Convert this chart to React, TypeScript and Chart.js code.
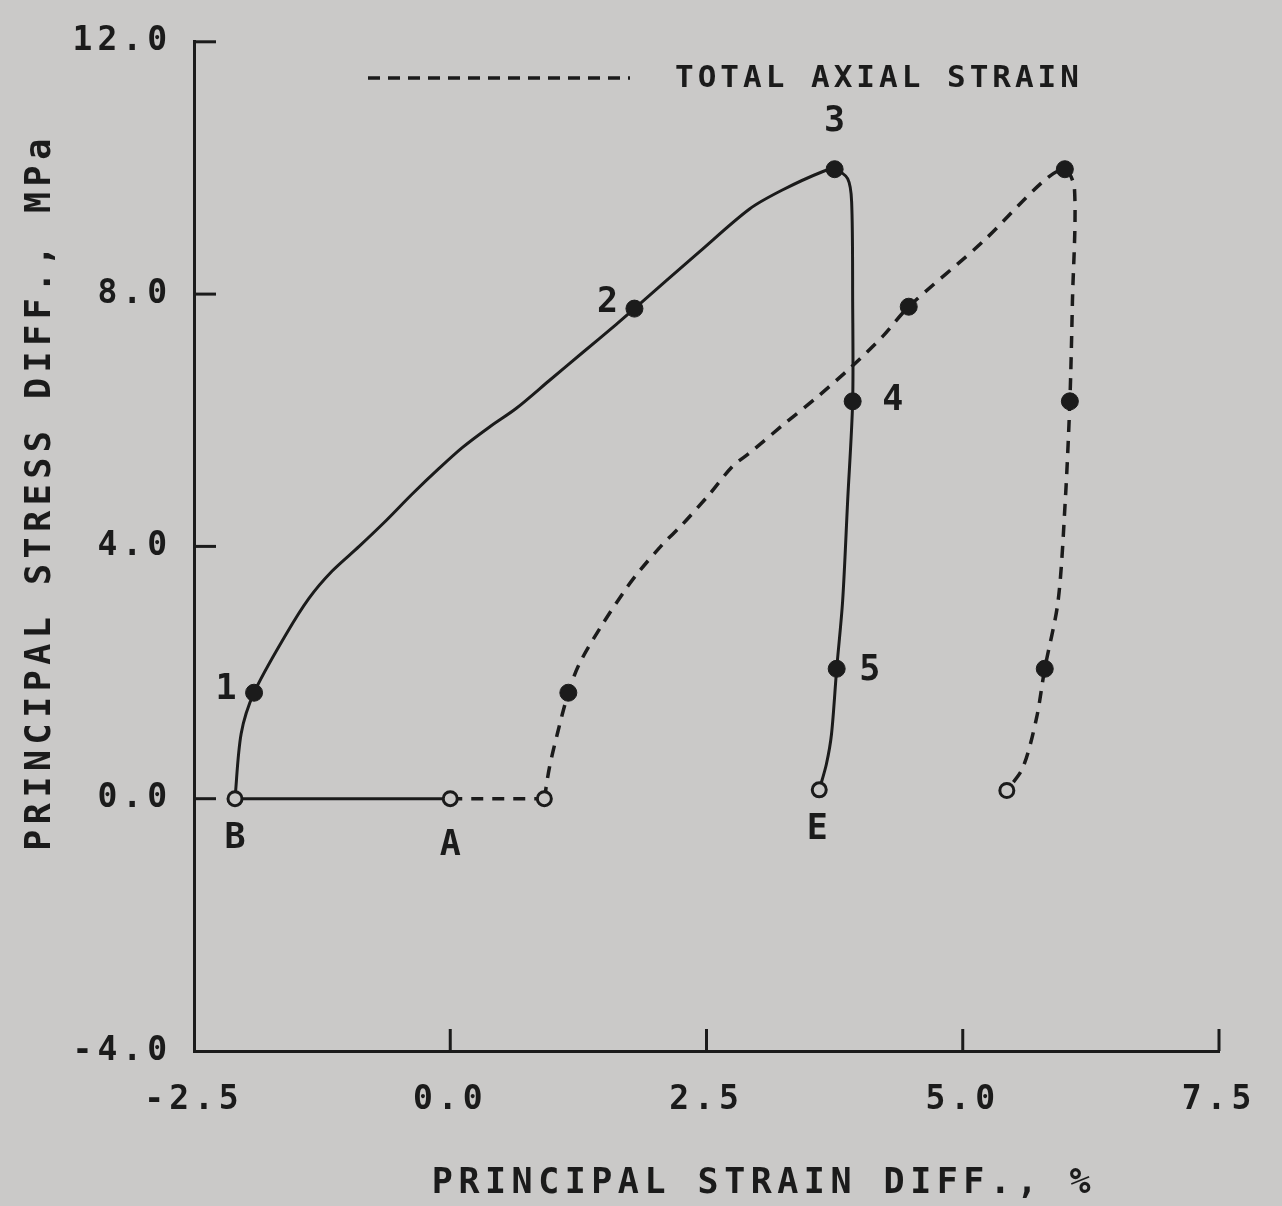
import React, { useEffect, useRef } from 'react';
import { Chart, registerables } from 'chart.js';

Chart.register(...registerables);

// ---------- data ----------
const X_TICKS = [-2.5, 0, 2.5, 5, 7.5];
const Y_TICKS = [-4, 0, 4, 8, 12];

// Solid: principal strain difference. Unloaded baseline A -> B, then loading curve B -> 1 -> 2 -> 3 -> 4 -> 5 -> E
const principalBaseX = [0, -2.1];
const principalBaseY = [0, 0];
const principalX = [-2.1, -2.04, -1.914, -1.6, -1.377, -1.152, -0.889, -0.625, -0.371, -0.107, 0.12, 0.38, 0.645, 0.967, 1.289, 1.62, 1.797, 2.43, 2.92, 3.24, 3.63, 3.75, 3.877, 3.916, 3.926, 3.926, 3.877, 3.828, 3.77, 3.72, 3.67, 3.6];
const principalY = [0, 1.03, 1.68, 2.61, 3.18, 3.61, 4.0, 4.41, 4.83, 5.24, 5.57, 5.89, 6.19, 6.63, 7.07, 7.52, 7.77, 8.67, 9.35, 9.65, 9.94, 9.98, 9.83, 9.46, 7.88, 6.3, 4.72, 3.13, 2.06, 1.03, 0.55, 0.14];

// Dashed: total axial strain. Baseline A -> open point, then loading curve
const axialBaseX = [0, 0.918];
const axialBaseY = [0, 0];
const axialX = [0.918, 0.967, 1.045, 1.152, 1.26, 1.475, 1.72, 1.846, 2.07, 2.266, 2.53, 2.754, 2.92, 3.242, 3.574, 3.896, 4.219, 4.473, 5.195, 5.78, 5.996, 6.09, 6.07, 6.045, 6.0, 5.93, 5.8, 5.72, 5.586, 5.43];
const axialY = [0, 0.49, 1.03, 1.68, 2.14, 2.74, 3.34, 3.61, 4.03, 4.35, 4.83, 5.27, 5.48, 5.92, 6.36, 6.82, 7.33, 7.8, 8.83, 9.78, 9.98, 9.67, 7.88, 6.3, 4.72, 3.13, 2.06, 1.28, 0.49, 0.13];

// Marked stages
const stageNames = ['1', '2', '3', '4', '5'];
const stagePrincipalX = [-1.914, 1.797, 3.75, 3.926, 3.77];
const stagePrincipalY = [1.68, 7.77, 9.98, 6.3, 2.06];
const stageAxialX = [1.152, 4.473, 5.996, 6.045, 5.8];
const stageAxialY = [1.68, 7.8, 9.98, 6.3, 2.06];

const openNames = ['A', 'B', 'E'];
const openPrincipalX = [0, -2.1, 3.6];
const openPrincipalY = [0, 0, 0.14];
const openAxialX = [0.918, 5.43];
const openAxialY = [0, 0.13];

const LEGEND_TEXT = 'TOTAL AXIAL STRAIN';
const X_TITLE = 'PRINCIPAL STRAIN DIFF., %';
const Y_TITLE = 'PRINCIPAL STRESS DIFF., MPa';

// ---------- styles / layout ----------
const BG = '#cac9c8';
const INK = '#1b1b1b';
const FONT = '"DejaVu Sans Mono", monospace';
const W = 1282;
const H = 1206;
const TICK_LEN = 22;
const TENSION = 0.3;
// label offsets (px) relative to their marker, same order as names
const stageLabelOffsets = [[-28, -3], [-27, -6], [0, -47], [40, 0], [33, 2]];
const openLabelOffsets = [[0, 47], [0, 40], [-2, 40]];

const pts = (xs: number[], ys: number[]) => xs.map((x, i) => ({ x, y: ys[i] }));

const decorPlugin = {
  id: 'decor',
  beforeDraw(chart: any) {
    chart.ctx.letterSpacing = '5px';
  },
  afterDraw(chart: any) {
    const { ctx } = chart;
    const x = chart.scales.x;
    const y = chart.scales.y;
    ctx.save();
    ctx.strokeStyle = INK;
    ctx.fillStyle = INK;
    ctx.lineWidth = 3;
    ctx.setLineDash([]);
    // inward tick marks
    const left = x.left;
    const bottom = y.bottom;
    X_TICKS.slice(1).forEach((v) => {
      const px = x.getPixelForValue(v);
      ctx.beginPath();
      ctx.moveTo(px, bottom);
      ctx.lineTo(px, bottom - TICK_LEN);
      ctx.stroke();
    });
    Y_TICKS.slice(1).forEach((v) => {
      const py = y.getPixelForValue(v);
      ctx.beginPath();
      ctx.moveTo(left, py);
      ctx.lineTo(left + TICK_LEN, py);
      ctx.stroke();
    });

    // legend
    ctx.lineWidth = 3.5;
    ctx.setLineDash([12, 8]);
    ctx.beginPath();
    ctx.moveTo(368, 78);
    ctx.lineTo(630, 78);
    ctx.stroke();
    ctx.setLineDash([]);
    ctx.letterSpacing = '4px';
    ctx.font = `bold 31px ${FONT}`;
    ctx.textAlign = 'left';
    ctx.textBaseline = 'middle';
    ctx.fillText(LEGEND_TEXT, 675, 79);

    // axis titles
    ctx.font = `bold 35px ${FONT}`;
    ctx.letterSpacing = '5.5px';
    ctx.textAlign = 'center';
    ctx.fillText(X_TITLE, 764, 1184);
    ctx.save();
    ctx.translate(41, 492);
    ctx.rotate(-Math.PI / 2);
    ctx.fillText(Y_TITLE, 0, 0);
    ctx.restore();

    // point labels
    ctx.font = `bold 35px ${FONT}`;
    ctx.letterSpacing = '0px';
    stageNames.forEach((n, i) => {
      const px = x.getPixelForValue(stagePrincipalX[i]) + stageLabelOffsets[i][0];
      const py = y.getPixelForValue(stagePrincipalY[i]) + stageLabelOffsets[i][1];
      ctx.fillText(n, px, py);
    });
    openNames.forEach((n, i) => {
      const px = x.getPixelForValue(openPrincipalX[i]) + openLabelOffsets[i][0];
      const py = y.getPixelForValue(openPrincipalY[i]) + openLabelOffsets[i][1];
      ctx.fillText(n, px, py);
    });
    ctx.restore();
  },
};

const markerSet = (label: string, xs: number[], ys: number[], open: boolean) => ({
  label,
  data: pts(xs, ys),
  showLine: false,
  pointRadius: open ? 7 : 8.5,
  pointBackgroundColor: open ? BG : INK,
  pointBorderColor: INK,
  pointBorderWidth: open ? 3 : 1,
  order: 0,
});

const lineSet = (label: string, xs: number[], ys: number[], dashed: boolean, tension: number) => ({
  label,
  data: pts(xs, ys),
  showLine: true,
  borderColor: INK,
  borderWidth: dashed ? 3.5 : 3,
  borderDash: dashed ? [12, 9] : [],
  pointRadius: 0,
  tension,
  order: 1,
});

export default function App() {
  const ref = useRef<HTMLCanvasElement | null>(null);

  useEffect(() => {
    if (!ref.current) return;
    const chart = new Chart(ref.current, {
      type: 'scatter',
      data: {
        datasets: [
          markerSet('principal stages', stagePrincipalX, stagePrincipalY, false),
          markerSet('axial stages', stageAxialX, stageAxialY, false),
          markerSet('principal open', openPrincipalX, openPrincipalY, true),
          markerSet('axial open', openAxialX, openAxialY, true),
          lineSet('principal base', principalBaseX, principalBaseY, false, 0),
          lineSet('PRINCIPAL STRAIN DIFF.', principalX, principalY, false, TENSION),
          lineSet('axial base', axialBaseX, axialBaseY, true, 0),
          lineSet(LEGEND_TEXT, axialX, axialY, true, TENSION),
        ] as any,
      },
      options: {
        responsive: false,
        animation: false,
        devicePixelRatio: 1,
        layout: { padding: { top: 40, right: 63, left: 0, bottom: 0 } },
        plugins: {
          legend: { display: false },
          title: { display: false },
          tooltip: { enabled: false },
        },
        scales: {
          x: {
            type: 'linear',
            min: -2.5,
            max: 7.5,
            grid: { display: true, drawOnChartArea: false, drawTicks: false },
            border: { display: true, color: INK, width: 3 },
            ticks: {
              stepSize: 2.5,
              autoSkip: false,
              maxRotation: 0,
              padding: 30,
              color: INK,
              font: { family: FONT, size: 33, weight: 'bold' },
              callback: (v: any) => Number(v).toFixed(1),
            },
            afterFit: (s: any) => {
              s.height = H - 1051;
            },
          },
          y: {
            type: 'linear',
            min: -4,
            max: 12,
            grid: { display: true, drawOnChartArea: false, drawTicks: false },
            border: { display: true, color: INK, width: 3 },
            ticks: {
              stepSize: 4,
              autoSkip: false,
              padding: 22,
              color: INK,
              font: { family: FONT, size: 33, weight: 'bold' },
              callback: (v: any) => Number(v).toFixed(1),
            },
            afterFit: (s: any) => {
              s.width = 194;
            },
          },
        },
      },
      plugins: [decorPlugin],
    });
    return () => chart.destroy();
  }, []);

  return (
    <div style={{ position: 'absolute', left: 0, top: 0, width: W, height: H, background: BG }}>
      <canvas ref={ref} width={W} height={H} style={{ display: 'block', width: W, height: H }} />
    </div>
  );
}
